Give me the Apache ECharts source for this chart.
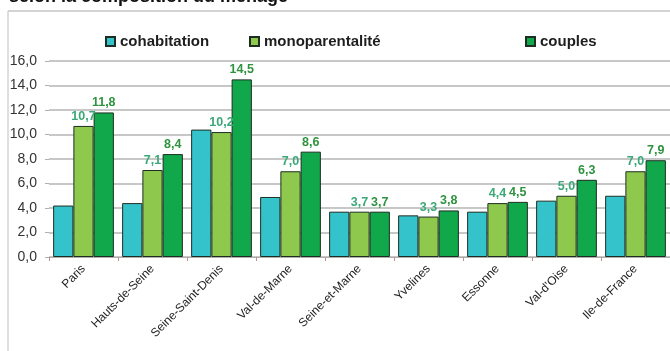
<!DOCTYPE html>
<html>
<head>
<meta charset="utf-8">
<script src="https://cdn.jsdelivr.net/npm/echarts@6/dist/echarts.min.js"></script>
<style>
  html, body { margin: 0; padding: 0; background: #fff; }
  #chart { width: 670px; height: 351px; }
</style>
</head>
<body>
<div id="chart"></div>
<script>
// Départements d'Île-de-France
const categories = ['Paris', 'Hauts-de-Seine', 'Seine-Saint-Denis', 'Val-de-Marne',
  'Seine-et-Marne', 'Yvelines', 'Essonne', "Val-d'Oise", 'Ile-de-France'];

const cohabitation = [4.2, 4.4, 10.4, 4.9, 3.7, 3.4, 3.7, 4.6, 5.0];
const monoparentalite = [10.7, 7.1, 10.2, 7.0, 3.7, 3.3, 4.4, 5.0, 7.0];
const couples = [11.8, 8.4, 14.5, 8.6, 3.7, 3.8, 4.5, 6.3, 7.9];

const yTicks = { min: 0, max: 16, interval: 2 };

const fmt = v => v.toFixed(1).replace('.', ',');
const FONT = '"Liberation Sans", Arial, sans-serif';

const chart = echarts.init(document.getElementById('chart'));

const legendText = { fontFamily: FONT, fontSize: 15, fontWeight: 'bold', color: '#1e1e1e' };
function legendAt(name, left) {
  return {
    data: [name], left: left, top: 29, itemWidth: 9, itemHeight: 9, itemGap: 4,
    icon: 'rect', textStyle: legendText
  };
}

function barSeries(name, data, color, labelColor) {
  return {
    name: name, type: 'bar', data: data,
    barGap: '0%', barCategoryGap: '12%',
    itemStyle: { color: color, borderColor: '#1d2d22', borderWidth: 1 },
    label: labelColor ? {
      show: true, position: 'top', distance: 3,
      fontFamily: FONT, fontSize: 12.5, fontWeight: 'bold', color: labelColor,
      formatter: p => fmt(p.value)
    } : { show: false }
  };
}

chart.setOption({
  animation: false,
  backgroundColor: '#ffffff',
  graphic: [
    // heading line running off the top edge of the page
    {
      type: 'text', left: 9, top: -12,
      style: {
        text: 'selon la composition du ménage',
        font: 'bold 18px "Liberation Sans", Arial, sans-serif', fill: '#111'
      }
    },
    { type: 'line', shape: { x1: 8, y1: 11, x2: 670, y2: 11 }, style: { stroke: '#c4c4c4', lineWidth: 1.5 } },
    { type: 'line', shape: { x1: 8, y1: 11, x2: 8, y2: 351 }, style: { stroke: '#d4d4d4', lineWidth: 1.5 } }
  ],
  legend: [
    legendAt('cohabitation', 100),
    legendAt('monoparentalité', 244),
    legendAt('couples', 520)
  ],
  grid: { left: 49, right: -5, top: 61, bottom: 94, containLabel: false },
  xAxis: {
    type: 'category', data: categories,
    axisLine: { lineStyle: { color: '#b0b0b0', width: 1 } },
    axisTick: { show: true, length: 4, lineStyle: { color: '#c09090' } },
    axisLabel: {
      rotate: 45, interval: 0, margin: 10,
      fontFamily: FONT, fontSize: 12, color: '#222'
    }
  },
  yAxis: {
    type: 'value', min: yTicks.min, max: yTicks.max, interval: yTicks.interval,
    axisLine: { show: false },
    axisTick: { show: true, length: 4, lineStyle: { color: '#b0b0b0' } },
    axisLabel: {
      fontFamily: FONT, fontSize: 14, color: '#333', margin: 12,
      formatter: v => fmt(v)
    },
    splitLine: { lineStyle: { color: '#b4b4b4', width: 1.5 } }
  },
  series: [
    barSeries('cohabitation', cohabitation, '#35c3cb', null),
    barSeries('monoparentalité', monoparentalite, '#8ec94e', '#3aa877'),
    barSeries('couples', couples, '#10a84b', '#2f933f')
  ]
});
</script>
</body>
</html>
